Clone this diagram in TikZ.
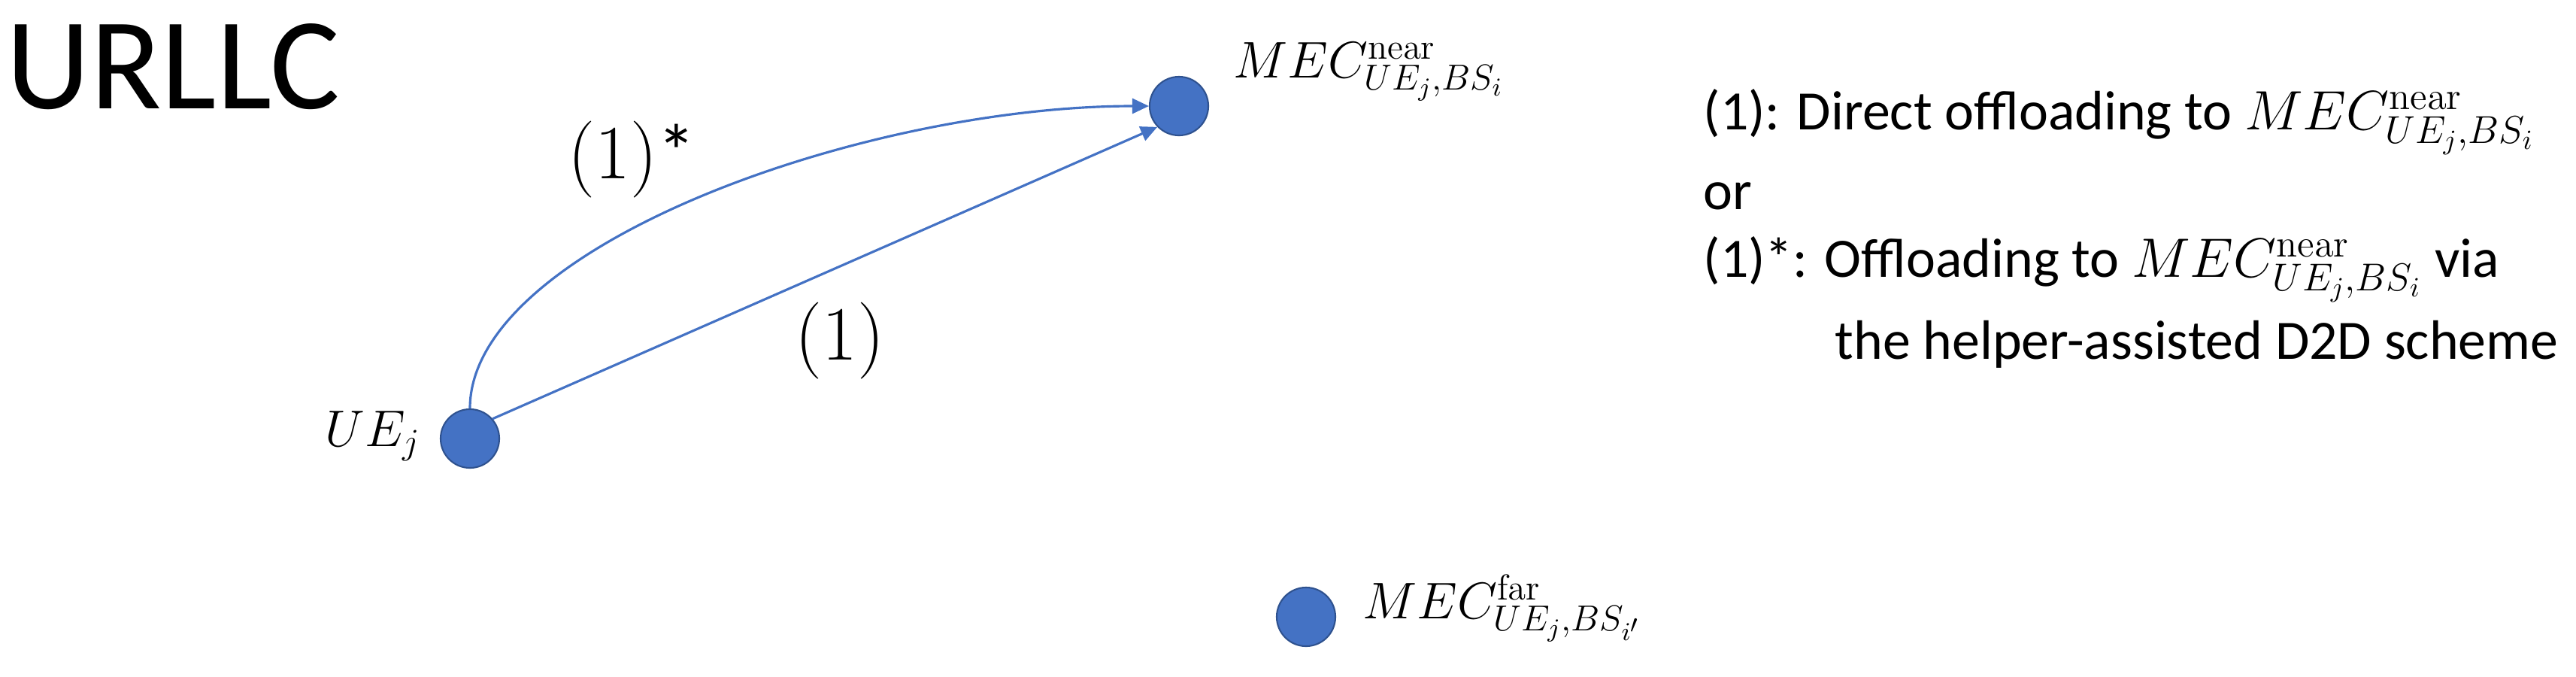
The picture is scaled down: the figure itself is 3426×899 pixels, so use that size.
\RequirePackage{fix-cm}
\documentclass[tikz,border=0pt]{standalone}
\usepackage[no-math]{fontspec}
\setmainfont{Carlito}
\usetikzlibrary{arrows.meta}
\definecolor{dotblue}{RGB}{68,114,196}
\definecolor{dotedge}{RGB}{47,82,143}
\tikzset{
  netdot/.style={circle, fill=dotblue, draw=dotedge, line width=0.6pt, minimum size=0.78cm, inner sep=0pt},
  link/.style={dotblue, line width=0.9pt, -{Triangle[length=0.22cm, width=0.2cm]}},
  mathlabel/.style={anchor=base west, inner sep=0pt, font=\fontsize{19.5}{23}\selectfont},
  linklabel/.style={anchor=base west, inner sep=0pt, font=\fontsize{29}{34}\selectfont},
  legend/.style={anchor=base west, inner sep=0pt, font=\fontsize{21}{25}\selectfont}
}
\begin{document}
\begin{tikzpicture}[x=0.01cm, y=0.01cm]
    \useasboundingbox (0,0) rectangle (3426,-899);
    \node[anchor=base west, inner sep=0pt, font=\fontsize{49.5}{58}\selectfont] (title) at (8,-144) {URLLC};
    \node[netdot] (ue) at (625,-583) {};
    \node[netdot] (mecnear) at (1568,-141) {};
    \node[netdot] (mecfar) at (1737,-820) {};
    \node[mathlabel] (uelabel) at (432,-593) {$UE_j$};
    \node[mathlabel] (nearlabel) at (1640,-103) {$MEC^{\mathrm{near}}_{UE_j,BS_i}$};
    \node[mathlabel] (farlabel) at (1812,-822) {$MEC^{\mathrm{far}}_{UE_j,BS_{i'}}$};
    \draw[link] (ue.41) -- (mecnear.224);
    \draw[link] (ue.north) .. controls +(0,215) and +(-380,0) .. (mecnear.west);
    \node[linklabel] (starlabel) at (755,-237) {$(1)$*};
    \node[linklabel] (directlabel) at (1057,-478) {$(1)$};
    \node[legend] (legend1) at (2265,-172) {(1): Direct offloading to $MEC^{\mathrm{near}}_{UE_j,BS_i}$};
    \node[legend] (legend2) at (2265,-278) {or};
    \node[legend] (legend3) at (2265,-368) {(1)*: Offloading to $MEC^{\mathrm{near}}_{UE_j,BS_i}$ via};
    \node[legend] (legend4) at (2440,-477) {the helper-assisted D2D scheme};
\end{tikzpicture}
\end{document}
